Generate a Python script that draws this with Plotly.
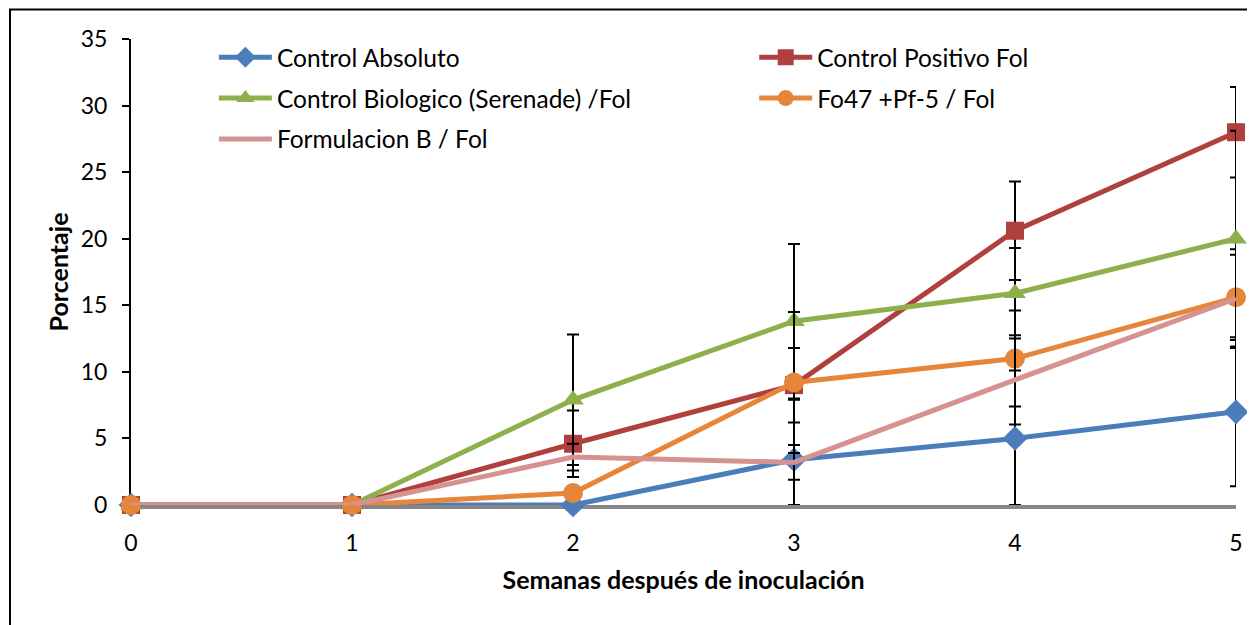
import plotly.graph_objects as go

weeks = [0, 1, 2, 3, 4, 5]

names = ["Control Absoluto", "Control Positivo Fol", "Control Biologico (Serenade) /Fol",
         "Fo47 +Pf-5 / Fol", "Formulacion B / Fol"]

absoluto = [0, 0, 0, 3.4, 5.0, 7.0]
positivo = [0, 0, 4.6, 9.0, 20.6, 28.0]
biologico = [0, 0, 7.9, 13.8, 15.9, 20.0]
fo47 = [0, 0, 0.9, 9.2, 11.0, 15.6]
formulacion = [0, 0, 3.6, 3.2, 9.4, 15.5]

err_absoluto = [None, None, None, 4.5, 5.1, 5.6]
err_positivo = [None, None, 2.5, 2.8, 3.7, 3.4]
err_biologico = [None, None, 4.9, 5.8, 3.4, 8.1]
err_fo47 = [None, None, 0.4, 5.3, 3.6, 3.2]
err_formulacion = [None, None, 1.0, 1.3, 3.35, 3.7]

y_ticks = [0, 5, 10, 15, 20, 25, 30, 35]

colors = ["#4A7DBA", "#B0403E", "#8DB04D", "#E5863A", "#D69290"]
symbols = ["diamond", "square", "triangle-up", "circle", None]
sizes = [19, 18, 19, 20, 0]
legends = ["legend", "legend2", "legend", "legend2", "legend"]

series = [absoluto, positivo, biologico, fo47, formulacion]
errs = [err_absoluto, err_positivo, err_biologico, err_fo47, err_formulacion]

FONT = "Lato"
W, H = 1255, 625
ML, MR, MT, MB = 123, 27, 30.5, 128
PW, PH = W - ML - MR, H - MT - MB

fig = go.Figure()
for i, (nm, ys, er) in enumerate(zip(names, series, errs)):
    # clip lower error at axis minimum (0), as the reference chart does
    minus = [None if e is None else min(e, v) for e, v in zip(er, ys)]
    mode = "lines+markers" if symbols[i] else "lines"
    marker = dict(symbol=symbols[i], size=sizes[i], color=colors[i]) if symbols[i] else None
    fig.add_trace(go.Scatter(
        x=weeks, y=ys, name=nm, mode=mode,
        line=dict(color=colors[i], width=5),
        marker=marker,
        error_y=dict(type="data", array=er, arrayminus=minus, symmetric=False,
                     color="black", thickness=2, width=6),
        cliponaxis=False,
        legend=legends[i],
        legendgroup=nm,
    ))

leg_common = dict(yanchor="top", xanchor="left", bgcolor="rgba(0,0,0,0)",
                  font=dict(family=FONT, size=24.5, color="black"),
                  itemwidth=53, tracegroupgap=6, traceorder="grouped")

fig.update_layout(
    width=W, height=H,
    margin=dict(l=ML, r=MR, t=MT, b=MB),
    paper_bgcolor="white", plot_bgcolor="white",
    font=dict(family=FONT, size=23, color="black"),
    showlegend=True,
    legend=dict(x=0.075, y=1.009, **leg_common),
    legend2=dict(x=0.564, y=1.009, **leg_common),
    xaxis=dict(range=[0, 5], tickvals=weeks, ticktext=[str(w) for w in weeks],
               showgrid=False, zeroline=False, showline=True, linecolor="#878787",
               linewidth=3.5, ticks="", ticklabelstandoff=15, layer="below traces",
               tickfont=dict(family=FONT, size=23),
               title=dict(text="<b>Semanas después de inoculación</b>", standoff=17,
                          font=dict(family=FONT, size=25))),
    yaxis=dict(range=[0, 35], tickvals=y_ticks, showgrid=False, zeroline=False,
               showline=True, linecolor="black", linewidth=2, ticks="outside",
               ticklen=7, tickwidth=2, tickcolor="black", ticklabelstandoff=10,
               layer="below traces", tickfont=dict(family=FONT, size=23),
               title=dict(text="<b>Porcentaje</b>", standoff=5,
                          font=dict(family=FONT, size=25))),
    shapes=[dict(type="rect", xref="paper", yref="paper",
                 x0=(2 - ML) / PW, x1=(W + 20 - ML) / PW,
                 y0=(PH + MT - (H + 20)) / PH, y1=(PH + MT - 1) / PH,
                 line=dict(color="black", width=2), fillcolor="rgba(0,0,0,0)", layer="below")],
)

fig.write_html("out.html")
